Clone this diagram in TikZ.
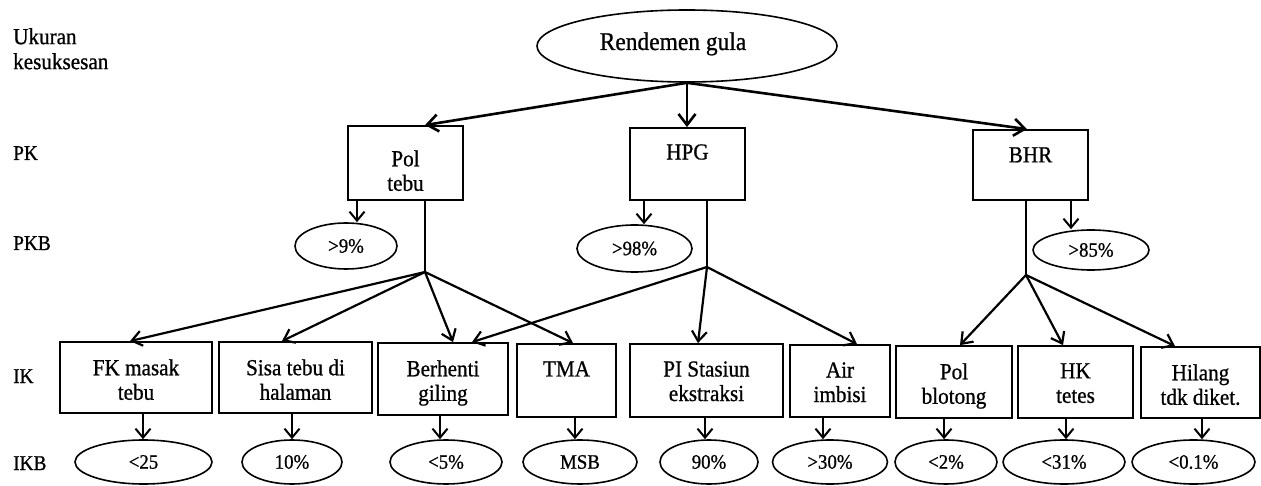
\documentclass[tikz,border=0pt]{standalone}
\usepackage{fontspec}
\setmainfont{Liberation Serif}[FakeStretch=0.92, FakeBold=0.8]
\usetikzlibrary{shapes.geometric,arrows.meta}

\newcommand\fsz[2]{\fontsize{#1}{#2}\selectfont}

\begin{document}
\begin{tikzpicture}[x=1pt,y=-1pt,
  sidelbl/.style={inner sep=0pt, anchor=base west, font=\fsz{21}{25}},
  rootoval/.style={draw, ellipse, line width=1.6pt, inner sep=0pt,
    minimum width=300pt, minimum height=72pt},
  boxst/.style={draw, line width=1.8pt, inner sep=0pt},
  btxt/.style={anchor=north, inner sep=0pt, align=center, font=\fsz{23}{24.5}},
  oval/.style={draw, ellipse, line width=1.6pt, inner sep=0pt, font=\fsz{20.5}{22}},
  bigarr/.style={line width=2.6pt, -{Straight Barb[length=11pt,width=17pt]}},
  brarr/.style={line width=2.2pt, -{Straight Barb[length=10pt,width=15pt]}},
  smarr/.style={line width=2pt, -{Straight Barb[length=9pt,width=15pt]}},
  stem/.style={line width=1.3pt}]

\useasboundingbox (0,0) rectangle (1261,486);

% level labels on the left
\node[inner sep=0pt, anchor=north west, align=left, font=\fsz{23}{25}] (lvl-uk) at (13,28) {Ukuran\\kesuksesan};
\node[sidelbl] (lvl-pk)  at (13,160) {PK};
\node[sidelbl] (lvl-pkb) at (13,250) {PKB};
\node[sidelbl] (lvl-ik)  at (13,383) {IK};
\node[sidelbl] (lvl-ikb) at (13,470) {IKB};

% root
\node[rootoval] (rg) at (687,46) {};
\node[inner sep=0pt, anchor=base, font=\fsz{25.5}{28}] (rg-t) at (673,50) {Rendemen gula};

% PK boxes
\node[boxst, minimum width=115pt, minimum height=74pt] (pol) at (405.5,163) {};
\node[btxt] (pol-t) at ([yshift=-25pt]pol.north) {Pol\\tebu};
\node[boxst, minimum width=115pt, minimum height=72pt] (hpg) at (687.5,164) {};
\node[btxt] (hpg-t) at ([yshift=-17pt]hpg.north) {HPG};
\node[boxst, minimum width=115pt, minimum height=70pt] (bhr) at (1030.5,165) {};
\node[btxt] (bhr-t) at ([yshift=-18pt]bhr.north) {BHR};

% PKB targets
\node[oval, minimum width=102pt, minimum height=46pt] (p9)  at (346,246)   {>9\%};
\node[oval, minimum width=115pt, minimum height=47pt] (p98) at (634.5,248.5) {>98\%};
\node[oval, minimum width=116pt, minimum height=40pt] (p85) at (1091,250)  {>85\%};

% IK boxes
\node[boxst, minimum width=152pt, minimum height=71pt] (fk)   at (136,377.5)  {};
\node[btxt] (fk-t) at ([yshift=-18pt]fk.north) {FK masak\\tebu};
\node[boxst, minimum width=153pt, minimum height=71pt] (sisa) at (295.5,377.5) {};
\node[btxt] (sisa-t) at ([yshift=-18pt]sisa.north) {Sisa tebu di\\halaman};
\node[boxst, minimum width=130pt, minimum height=72pt] (berh) at (443,379) {};
\node[btxt] (berh-t) at ([yshift=-18pt]berh.north) {Berhenti\\giling};
\node[boxst, minimum width=99pt, minimum height=73pt]  (tma)  at (566.5,380.5) {};
\node[btxt] (tma-t) at ([yshift=-18pt]tma.north) {TMA};
\node[boxst, minimum width=153pt, minimum height=73pt] (pi)   at (706.5,380.5) {};
\node[btxt] (pi-t) at ([yshift=-18pt]pi.north) {PI Stasiun\\ekstraksi};
\node[boxst, minimum width=100pt, minimum height=72pt] (air)  at (840,381) {};
\node[btxt] (air-t) at ([yshift=-18pt]air.north) {Air\\imbisi};
\node[boxst, minimum width=116pt, minimum height=72pt] (polb) at (954,382) {};
\node[btxt] (polb-t) at ([yshift=-18pt]polb.north) {Pol\\blotong};
\node[boxst, minimum width=115pt, minimum height=72pt] (hk)   at (1075.5,382) {};
\node[btxt] (hk-t) at ([yshift=-18pt]hk.north) {HK\\tetes};
\node[boxst, minimum width=119pt, minimum height=71pt] (hil)  at (1200.5,382.5) {};
\node[btxt] (hil-t) at ([yshift=-18pt]hil.north) {Hilang\\tdk diket.};

% IKB targets
\node[oval, minimum width=137pt, minimum height=44pt] (e1) at (143.5,462) {<25};
\node[oval, minimum width=100pt, minimum height=44pt] (e2) at (292,462)   {10\%};
\node[oval, minimum width=112pt, minimum height=44pt] (e3) at (446,462)   {<5\%};
\node[oval, minimum width=114pt, minimum height=44pt] (e4) at (580,462)   {MSB};
\node[oval, minimum width=98pt,  minimum height=44pt] (e5) at (709,462)   {90\%};
\node[oval, minimum width=115pt, minimum height=44pt] (e6) at (830,462)   {>30\%};
\node[oval, minimum width=102pt, minimum height=44pt] (e7) at (946,462)   {<2\%};
\node[oval, minimum width=122pt, minimum height=44pt] (e8) at (1064,462)  {<31\%};
\node[oval, minimum width=123pt, minimum height=44pt] (e9) at (1193.5,462) {<0.1\%};

% root to PK
\draw[bigarr] (rg.south) -- ([xshift=19.5pt]pol.north);
\draw[bigarr] (rg.south) -- (rg.south |- hpg.north);
\draw[bigarr] (rg.south) -- ([xshift=-3.5pt]bhr.north);

% PK to PKB
\coordinate (s1) at ([xshift=-48.5pt]pol.south);
\coordinate (s2) at ([xshift=-43.5pt]hpg.south);
\coordinate (s3) at ([xshift=40.5pt]bhr.south);
\draw[smarr] (s1) -- (s1 |- p9.north);
\draw[smarr] (s2) -- (s2 |- p98.north);
\draw[smarr] (s3) -- (s3 |- p85.north);

% stems and branch points
\coordinate (b1) at (425,272);
\coordinate (b2) at (707,267);
\coordinate (b3) at (1026,275);
\draw[stem] ([xshift=19.5pt]pol.south) -- (b1);
\draw[stem] ([xshift=19.5pt]hpg.south) -- (b2);
\draw[stem] ([xshift=-4.5pt]bhr.south) -- (b3);

% branches to IK
\draw[brarr] (b1) -- ([xshift=-6pt]fk.north);
\draw[brarr] (b1) -- ([xshift=-13.5pt]sisa.north);
\draw[brarr] (b1) -- ([xshift=10pt]berh.north);
\draw[brarr] (b1) -- ([xshift=6.5pt]tma.north);
\draw[brarr] (b2) -- ([xshift=29pt]berh.north);
\draw[brarr] (b2) -- ([xshift=-8.5pt]pi.north);
\draw[brarr] (b2) -- ([xshift=17pt]air.north);
\draw[brarr] (b3) -- ([xshift=6pt]polb.north);
\draw[brarr] (b3) -- ([xshift=-12.5pt]hk.north);
\draw[brarr] (b3) -- ([xshift=-25.5pt]hil.north);

% IK to IKB
\coordinate (k1) at ([xshift=7pt]fk.south);
\coordinate (k2) at ([xshift=-3.5pt]sisa.south);
\coordinate (k3) at ([xshift=-3pt]berh.south);
\coordinate (k4) at ([xshift=8.5pt]tma.south);
\coordinate (k5) at ([xshift=-1.5pt]pi.south);
\coordinate (k6) at ([xshift=-17pt]air.south);
\coordinate (k7) at ([xshift=-10pt]polb.south);
\coordinate (k8) at ([xshift=-9.5pt]hk.south);
\coordinate (k9) at ([xshift=1.5pt]hil.south);
\draw[smarr] (k1) -- (k1 |- e1.north);
\draw[smarr] (k2) -- (k2 |- e2.north);
\draw[smarr] (k3) -- (k3 |- e3.north);
\draw[smarr] (k4) -- (k4 |- e4.north);
\draw[smarr] (k5) -- (k5 |- e5.north);
\draw[smarr] (k6) -- (k6 |- e6.north);
\draw[smarr] (k7) -- (k7 |- e7.north);
\draw[smarr] (k8) -- (k8 |- e8.north);
\draw[smarr] (k9) -- (k9 |- e9.north);

\end{tikzpicture}
\end{document}
